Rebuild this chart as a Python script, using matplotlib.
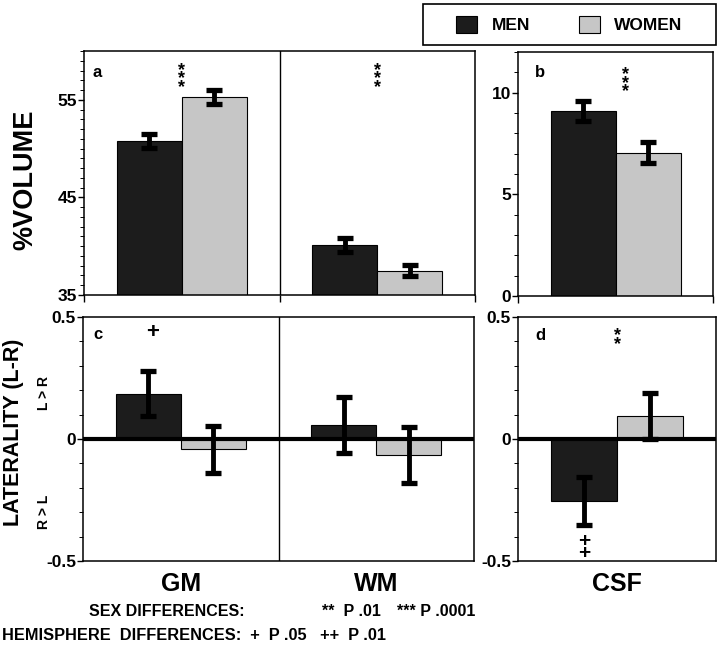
import matplotlib
matplotlib.use('Agg')
import matplotlib.pyplot as plt
import matplotlib.transforms as mtransforms
from matplotlib.patches import Rectangle
from matplotlib.ticker import MultipleLocator
import numpy as np

plt.rcParams['font.family'] = ['Liberation Sans', 'DejaVu Sans']
plt.rcParams['font.weight'] = 'bold'

# tissue classes
regions = ['GM', 'WM']
csf_label = ['CSF']

# % volume (mean, sem)
men_vol = [50.8, 40.1]
men_vol_err = [0.7, 0.7]
women_vol = [55.3, 37.5]
women_vol_err = [0.75, 0.55]
men_csf = [9.1]
men_csf_err = [0.5]
women_csf = [7.05]
women_csf_err = [0.52]

# laterality index (L-R)
men_lat = [0.186, 0.057]
men_lat_err = [0.093, 0.116]
women_lat = [-0.042, -0.066]
women_lat_err = [0.097, 0.115]
men_csf_lat = [-0.253]
men_csf_lat_err = [0.098]
women_csf_lat = [0.095]
women_csf_lat_err = [0.095]

# significance markers
vol_sex_sig = ['***', '***']
csf_sex_sig = ['***']
csf_lat_sex_sig = ['**']
men_lat_hemi = ['+', '']
men_csf_lat_hemi = ['++']

vol_ticks = [35, 45, 55]
csf_ticks = [0, 5, 10]
lat_ticks = [-0.5, 0, 0.5]
lat_tick_labels = ['-0.5', '0', '0.5']

MEN_C = '#1c1c1c'
WOMEN_C = '#c6c6c6'
W = 1 / 3

W_PX, H_PX = 720, 650
fig = plt.figure(figsize=(W_PX / 100, H_PX / 100), dpi=100)


def px_rect(x0, y0, x1, y1):
    return [x0 / W_PX, 1 - y1 / H_PX, (x1 - x0) / W_PX, (y1 - y0) / H_PX]


ax_a = fig.add_axes(px_rect(84, 51, 475, 295))
ax_b = fig.add_axes(px_rect(518, 52, 713, 296))
ax_c = fig.add_axes(px_rect(83, 317, 474, 561))
ax_d = fig.add_axes(px_rect(518, 317, 716, 561))

err_style = dict(elinewidth=3.5, capsize=5.6, capthick=3.8, ecolor='black')


def draw_bars(ax, men, men_err, women, women_err):
    x = np.arange(len(men))
    bm = ax.bar(x - W / 2, men, W, yerr=men_err, color=MEN_C, edgecolor='black',
                linewidth=0.8, error_kw=err_style)
    bw = ax.bar(x + W / 2, women, W, yerr=women_err, color=WOMEN_C, edgecolor='black',
                linewidth=0.8, error_kw=err_style)
    ax.set_xlim(-0.5, len(men) - 0.5)
    return bm, bw


def stack_marks(ax, x, y_frac, marks, size, spacing):
    # marks stacked vertically in one text, centred on (x, y_frac)
    if not marks:
        return
    trans = mtransforms.blended_transform_factory(ax.transData, ax.transAxes)
    ax.text(x, y_frac, '\n'.join(marks), transform=trans, ha='center', va='center',
            fontsize=size, fontweight='bold', linespacing=spacing)


def style_axis(ax):
    for s in ax.spines.values():
        s.set_linewidth(1.1)
    ax.tick_params(axis='y', which='major', direction='out', length=4, width=1,
                   labelsize=12.5, pad=1)
    ax.tick_params(axis='y', which='minor', direction='out', length=3, width=0.7)


bm, bw = draw_bars(ax_a, men_vol, men_vol_err, women_vol, women_vol_err)
draw_bars(ax_b, men_csf, men_csf_err, women_csf, women_csf_err)
draw_bars(ax_c, men_lat, men_lat_err, women_lat, women_lat_err)
draw_bars(ax_d, men_csf_lat, men_csf_lat_err, women_csf_lat, women_csf_lat_err)

ax_a.set_ylim(35, 60)
ax_a.set_yticks(vol_ticks)
ax_a.yaxis.set_minor_locator(MultipleLocator(1))
ax_b.set_ylim(0, 12)
ax_b.set_yticks(csf_ticks)
ax_b.yaxis.set_minor_locator(MultipleLocator(1))
for ax in (ax_c, ax_d):
    ax.set_ylim(-0.5, 0.5)
    ax.set_yticks(lat_ticks)
    ax.set_yticklabels(lat_tick_labels)
    ax.yaxis.set_minor_locator(MultipleLocator(0.1))
    ax.axhline(0, color='black', lw=3, zorder=1.5)

for ax in (ax_a, ax_b, ax_c, ax_d):
    style_axis(ax)

# top panels: boundary ticks below the axis, no labels
for ax in (ax_a, ax_b):
    n = len(ax.patches) // 2
    ax.set_xticks(np.arange(n + 1) - 0.5)
    ax.set_xticklabels([])
    ax.tick_params(axis='x', direction='out', length=5, width=1)

# bottom panels: tissue names as tick labels
ax_c.set_xticks(np.arange(len(regions)))
ax_c.set_xticklabels(regions)
ax_d.set_xticks([0])
ax_d.set_xticklabels(csf_label)
for ax in (ax_c, ax_d):
    ax.tick_params(axis='x', length=0, labelsize=18, pad=8)

for ax in (ax_a, ax_c):
    ax.axvline(0.5, color='black', lw=1)

# panel letters
for ax, letter, xf, yf in ((ax_a, 'a', 0.033, 0.91), (ax_b, 'b', 0.113, 0.914),
                           (ax_c, 'c', 0.038, 0.93), (ax_d, 'd', 0.111, 0.926)):
    ax.text(xf, yf, letter, transform=ax.transAxes, ha='center', va='center',
            fontsize=12, fontweight='bold')

# significance markers
for i, m in enumerate(vol_sex_sig):
    stack_marks(ax_a, i, 0.885, m, 13, 0.36)
for i, m in enumerate(csf_sex_sig):
    stack_marks(ax_b, i + 0.05, 0.872, m, 13, 0.36)
for i, m in enumerate(csf_lat_sex_sig):
    stack_marks(ax_d, i, 0.905, m, 13, 0.36)
for i, m in enumerate(men_lat_hemi):
    stack_marks(ax_c, i - W / 2 + 0.02, 0.936, m, 16, 0.5)
for i, m in enumerate(men_csf_lat_hemi):
    stack_marks(ax_d, i - W / 2, 0.055, m, 15, 0.5)

# axis titles
fig.text(25 / W_PX, 1 - 180 / H_PX, '%VOLUME', rotation=90, ha='center', va='center',
         fontsize=19.5, fontweight='bold')
fig.text(14 / W_PX, 1 - 432 / H_PX, 'LATERALITY (L-R)', rotation=90, ha='center',
         va='center', fontsize=15.5, fontweight='bold')
fig.text(44 / W_PX, 1 - 393 / H_PX, 'L > R', rotation=90, ha='center', va='center',
         fontsize=10, fontweight='bold')
fig.text(44 / W_PX, 1 - 512 / H_PX, 'R > L', rotation=90, ha='center', va='center',
         fontsize=10, fontweight='bold')

# legend in a box at the top right
fig.patches.append(Rectangle((423 / W_PX, 1 - 45 / H_PX), 293 / W_PX, 41 / H_PX,
                             transform=fig.transFigure, fill=False, edgecolor='black',
                             linewidth=1.2))
fig.legend([bm, bw], ['MEN', 'WOMEN'], ncol=2, loc='center',
           bbox_to_anchor=((423 + 716) / 2 / W_PX, 1 - 24.5 / H_PX), frameon=False,
           prop=dict(size=12.5, weight='bold'), handlelength=1.2, handleheight=1.15,
           handletextpad=0.85, columnspacing=2.8)

# footnotes
fig.text(89 / W_PX, 1 - 611 / H_PX, 'SEX DIFFERENCES:', ha='left', va='center',
         fontsize=11.5, fontweight='bold')
fig.text(322 / W_PX, 1 - 611 / H_PX, '**  P .01', ha='left', va='center',
         fontsize=11.5, fontweight='bold')
fig.text(397 / W_PX, 1 - 611 / H_PX, '*** P .0001', ha='left', va='center',
         fontsize=11.5, fontweight='bold')
fig.text(2 / W_PX, 1 - 635 / H_PX, 'HEMISPHERE  DIFFERENCES:  +  P .05   ++  P .01',
         ha='left', va='center', fontsize=11.8, fontweight='bold')

fig.savefig('out.png', dpi=100)
